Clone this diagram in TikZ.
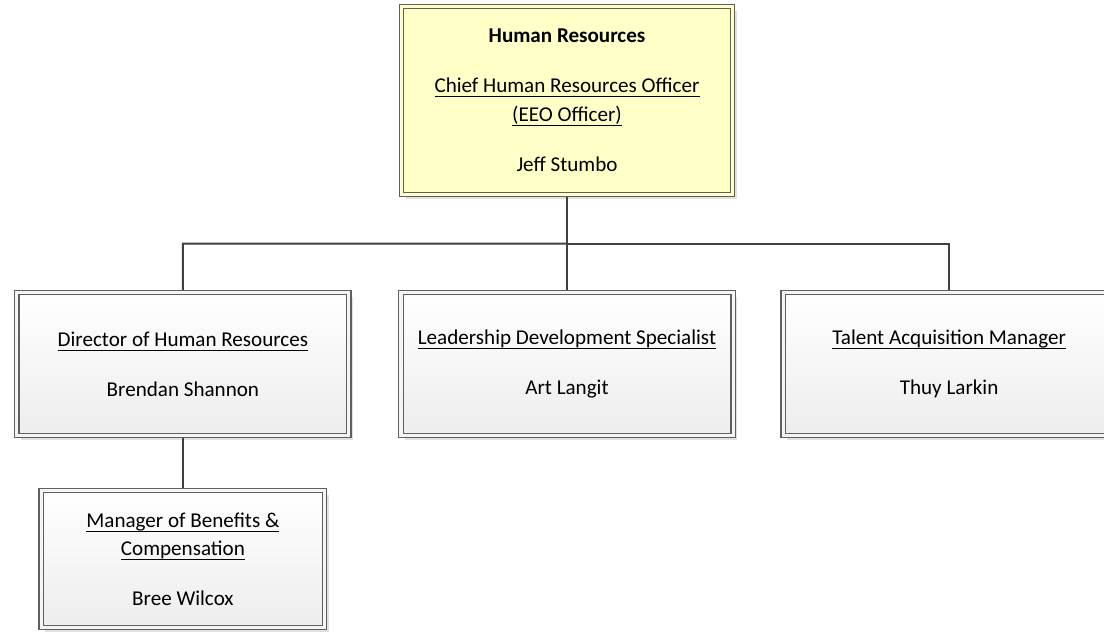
\documentclass[tikz,border=0pt]{standalone}
\usepackage{fontspec}
\setmainfont{Carlito}
\usepackage{tikz}
\usetikzlibrary{shadows,calc}
\definecolor{boxline}{HTML}{5F5F5F}
\definecolor{headfill}{HTML}{FFFFC8}
\definecolor{staffbot}{HTML}{EDEDED}
\definecolor{wirecol}{HTML}{404040}
\newcommand{\jobtitle}[1]{\setbox0\hbox{#1}\rlap{\rule[-3.2pt]{\wd0}{0.75pt}}\box0}
\tikzstyle{unit} = [rectangle,draw=boxline,line width=0.8pt,double distance=2.2pt,outer sep=0.065cm,align=center,font=\fontsize{15}{20.5}\selectfont,drop shadow={shadow xshift=0.11cm,shadow yshift=-0.11cm,fill=black!12,opacity=1}]
\tikzstyle{head} = [unit,double=headfill,fill=headfill,minimum width=8.27cm,minimum height=4.69cm]
\tikzstyle{staff} = [unit,double=black!4,top color=white,bottom color=staffbot,minimum width=8.3cm,minimum height=3.57cm]
\tikzstyle{link} = [color=wirecol,line width=1.4pt]

\begin{document}
\begin{tikzpicture}[x=0.025cm,y=-0.025cm]
	\useasboundingbox (0,0) rectangle (1104,632);
	\clip (0,0) rectangle (1104,632);

	%HR head
	\node (hr) [head] at (567,100.5) {\textbf{Human Resources}\\[15pt]
		\jobtitle{Chief Human Resources Officer}\\
		\jobtitle{(EEO Officer)}\\[15pt]
		Jeff Stumbo};

	%staff
	\node (lead) [staff,below of=hr,node distance=6.59cm] {\jobtitle{Leadership Development Specialist}\\[15pt] Art Langit};
	\node (dir) [staff,left of=lead,node distance=9.6cm] {\jobtitle{Director of Human Resources}\\[15pt] Brendan Shannon};
	\node (talent) [staff,right of=lead,node distance=9.55cm] {\jobtitle{Talent Acquisition Manager}\\[15pt] Thuy Larkin};
	\node (ben) [staff,below of=dir,node distance=4.875cm,minimum width=7.09cm,minimum height=3.42cm] {\jobtitle{Manager of Benefits \&}\\
		\jobtitle{Compensation}\\[15pt]
		Bree Wilcox};

	\coordinate (bus) at ($(hr.south)!0.5!(lead.north)$);
	\draw [link] (hr) -- (bus) -| (dir);
	\draw [link] (bus) -- (lead);
	\draw [link] (bus) -| (talent);
	\draw [link] (dir) -- (ben);
\end{tikzpicture}
\end{document}
